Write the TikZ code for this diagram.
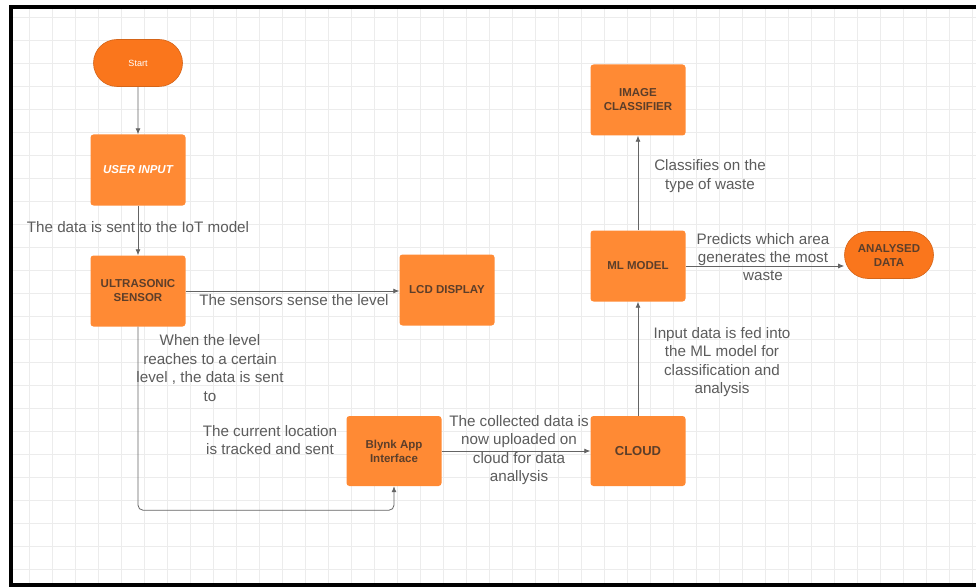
\documentclass[tikz,border=0pt]{standalone}
\usepackage{fontspec}
\setmainfont{Liberation Sans}
\usepackage{tikz}
\usetikzlibrary{arrows.meta,shapes,positioning,calc}
\usepackage{xcolor}
\definecolor{boxorange}{RGB}{255,138,52}
\definecolor{termorange}{RGB}{250,118,28}
\definecolor{boxtext}{RGB}{92,62,42}
\definecolor{lblgray}{RGB}{92,92,92}
\definecolor{linegray}{RGB}{100,100,100}
\definecolor{gridgray}{RGB}{236,236,236}
\tikzstyle{arrow} = [line width=0.8pt,-{Latex[length=6pt,width=5pt]},color=linegray]
\tikzstyle{procbox} = [rectangle, rounded corners=3pt, fill=boxorange, minimum width=95pt, minimum height=71pt, inner sep=2pt, align=center, text=boxtext, font=\bfseries\fontsize{11.5}{14}\selectfont]
\tikzstyle{termnode} = [rounded rectangle, fill=termorange, draw=termorange!85!black, line width=0.6pt, minimum width=93pt, minimum height=47pt, inner sep=2pt, align=center]
\tikzstyle{lbl} = [align=center, text=lblgray, inner sep=1pt, font=\fontsize{15.2}{18.4}\selectfont]

\begin{document}
\begin{tikzpicture}[x=1pt, y=-1pt]
    \useasboundingbox (0,0) rectangle (976,588);
    \fill[white] (0,0) rectangle (976,588);

    % Grid
    \foreach \i in {0,...,41}
        \draw[gridgray, line width=0.8pt] ({972-23*\i},8) -- ({972-23*\i},583);
    \foreach \j in {0,...,24}
        \draw[gridgray, line width=0.8pt] (13,{17+23*\j}) -- (976,{17+23*\j});

    % Frame
    \draw[black, line width=3.5pt] (976,7) -- (11,7) -- (11,585) -- (976,585);

    % Blocks
    \node[termnode, text=white, font=\fontsize{9}{11}\selectfont] (start) at (138,63) {Start};
    \node[procbox, text=white, font=\bfseries\itshape\fontsize{11.5}{14}\selectfont] (user) at (138,170) {USER INPUT};
    \node[procbox] (sensor) at (138,291) {ULTRASONIC\\SENSOR};
    \node[procbox] (lcd) at (447,290) {LCD DISPLAY};
    \node[procbox, minimum height=70pt] (blynk) at (394,451) {Blynk App\\Interface};
    \node[procbox, minimum height=70pt, font=\bfseries\fontsize{13}{15}\selectfont] (cloud) at (638,451) {CLOUD};
    \node[procbox] (ml) at (638,266) {ML MODEL};
    \node[procbox] (imgcls) at (638,100) {IMAGE\\CLASSIFIER};
    \node[termnode, text=boxtext, font=\bfseries\fontsize{11.5}{14}\selectfont] (analysed) at (889,255) {ANALYSED\\DATA};

    % Connectors
    \draw[arrow] (start) -- (user);
    \draw[arrow] (user) -- (sensor);
    \draw[arrow] (sensor.east) -- (sensor.east -| lcd.west);
    \draw[arrow, rounded corners=5pt] (sensor.south) |- ($(blynk.south)+(0,24)$) -- (blynk.south);
    \draw[arrow] (blynk.east) -- (blynk.east -| cloud.west);
    \draw[arrow] (cloud) -- (ml);
    \draw[arrow] (ml) -- (imgcls);
    \draw[arrow] (ml.east) -- (ml.east -| analysed.west);

    % Labels
    \node[lbl] (liot) at (138,227) {The data is sent to the IoT model};
    \node[lbl] (lsense) at (294,300) {The sensors sense the level};
    \node[lbl] (llevel) at (210,368) {When the level\\reaches to a certain\\level , the data is sent\\to};
    \node[lbl] (lloc) at (270,440) {The current location\\is tracked and sent};
    \node[lbl] (lupload) at (519,450) {The collected data is\\now uploaded on\\cloud for data\\anallysis};
    \node[lbl] (lfeed) at (722,362) {Input data is fed into\\the ML model for\\classification and\\analysis};
    \node[lbl] (lclass) at (710,176) {Classifies on the\\type of waste};
    \node[lbl] (lpredict) at (763,257) {Predicts which area\\generates the most\\waste};
\end{tikzpicture}
\end{document}
